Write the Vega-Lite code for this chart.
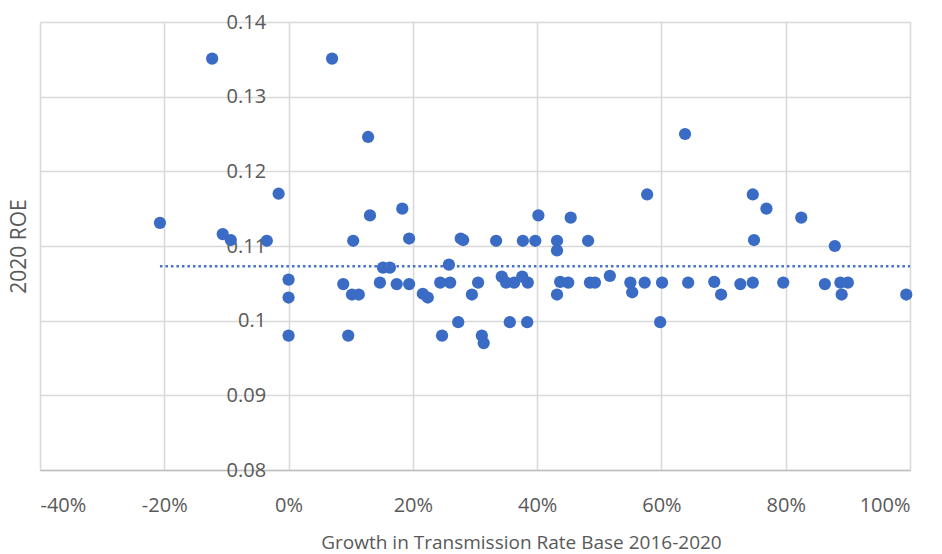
{
  "$schema": "https://vega.github.io/schema/vega-lite/v6.json",
  "width": 870,
  "height": 448,
  "autosize": {"type": "none"},
  "padding": {"left": 40, "top": 22, "right": 32, "bottom": 84},
  "background": "white",
  "config": {
    "view": {"stroke": null},
    "font": "Open Sans",
    "axis": {
      "gridColor": "#d9d9d9",
      "gridWidth": 1.6,
      "ticks": false,
      "tickSize": 0,
      "labelColor": "#595959",
      "titleColor": "#595959",
      "labelFont": "Open Sans",
      "titleFont": "Open Sans",
      "titleFontWeight": "normal"
    }
  },
  "layer": [
    {
      "data": {
        "values": [
          {"growth": -0.207, "roe": 0.1131},
          {"growth": -0.123, "roe": 0.1351},
          {"growth": -0.106, "roe": 0.1116},
          {"growth": -0.093, "roe": 0.1108},
          {"growth": -0.035, "roe": 0.1107},
          {"growth": -0.016, "roe": 0.117},
          {"growth": 0.0, "roe": 0.1055},
          {"growth": 0.0, "roe": 0.1031},
          {"growth": 0.0, "roe": 0.098},
          {"growth": 0.07, "roe": 0.1351},
          {"growth": 0.088, "roe": 0.1049},
          {"growth": 0.096, "roe": 0.098},
          {"growth": 0.102, "roe": 0.1035},
          {"growth": 0.104, "roe": 0.1107},
          {"growth": 0.113, "roe": 0.1035},
          {"growth": 0.128, "roe": 0.1246},
          {"growth": 0.131, "roe": 0.1141},
          {"growth": 0.147, "roe": 0.1051},
          {"growth": 0.152, "roe": 0.1071},
          {"growth": 0.163, "roe": 0.1071},
          {"growth": 0.174, "roe": 0.1049},
          {"growth": 0.183, "roe": 0.115},
          {"growth": 0.194, "roe": 0.111},
          {"growth": 0.194, "roe": 0.1049},
          {"growth": 0.216, "roe": 0.1036},
          {"growth": 0.224, "roe": 0.1031},
          {"growth": 0.244, "roe": 0.1051},
          {"growth": 0.247, "roe": 0.098},
          {"growth": 0.258, "roe": 0.1075},
          {"growth": 0.26, "roe": 0.1051},
          {"growth": 0.273, "roe": 0.0998},
          {"growth": 0.277, "roe": 0.111},
          {"growth": 0.281, "roe": 0.1108},
          {"growth": 0.295, "roe": 0.1035},
          {"growth": 0.305, "roe": 0.1051},
          {"growth": 0.311, "roe": 0.098},
          {"growth": 0.314, "roe": 0.097},
          {"growth": 0.334, "roe": 0.1107},
          {"growth": 0.343, "roe": 0.1059},
          {"growth": 0.35, "roe": 0.1051},
          {"growth": 0.356, "roe": 0.0998},
          {"growth": 0.363, "roe": 0.1051},
          {"growth": 0.376, "roe": 0.1059},
          {"growth": 0.377, "roe": 0.1107},
          {"growth": 0.384, "roe": 0.0998},
          {"growth": 0.385, "roe": 0.1051},
          {"growth": 0.397, "roe": 0.1107},
          {"growth": 0.402, "roe": 0.1141},
          {"growth": 0.432, "roe": 0.1107},
          {"growth": 0.432, "roe": 0.1094},
          {"growth": 0.432, "roe": 0.1035},
          {"growth": 0.437, "roe": 0.1052},
          {"growth": 0.45, "roe": 0.1051},
          {"growth": 0.454, "roe": 0.1138},
          {"growth": 0.482, "roe": 0.1107},
          {"growth": 0.485, "roe": 0.1051},
          {"growth": 0.493, "roe": 0.1051},
          {"growth": 0.517, "roe": 0.106},
          {"growth": 0.55, "roe": 0.1051},
          {"growth": 0.553, "roe": 0.1038},
          {"growth": 0.573, "roe": 0.1051},
          {"growth": 0.577, "roe": 0.1169},
          {"growth": 0.598, "roe": 0.0998},
          {"growth": 0.601, "roe": 0.1051},
          {"growth": 0.638, "roe": 0.125},
          {"growth": 0.643, "roe": 0.1051},
          {"growth": 0.685, "roe": 0.1052},
          {"growth": 0.696, "roe": 0.1035},
          {"growth": 0.727, "roe": 0.1049},
          {"growth": 0.747, "roe": 0.1169},
          {"growth": 0.747, "roe": 0.1051},
          {"growth": 0.749, "roe": 0.1108},
          {"growth": 0.769, "roe": 0.115},
          {"growth": 0.796, "roe": 0.1051},
          {"growth": 0.825, "roe": 0.1138},
          {"growth": 0.863, "roe": 0.1049},
          {"growth": 0.879, "roe": 0.11},
          {"growth": 0.888, "roe": 0.1051},
          {"growth": 0.89, "roe": 0.1035},
          {"growth": 0.9, "roe": 0.1051},
          {"growth": 0.994, "roe": 0.1035}
        ]
      },
      "mark": {
        "type": "point",
        "shape": "circle",
        "filled": true,
        "size": 150,
        "color": "#3A6BC5",
        "opacity": 1
      },
      "encoding": {
        "x": {
          "field": "growth",
          "type": "quantitative",
          "scale": {"domain": [-0.4, 1], "nice": false, "zero": false},
          "axis": {
            "values": [-0.4, -0.2, 0, 0.2, 0.4, 0.6, 0.8, 1],
            "labelExpr": "replace(format(datum.value, '.0%'), '\u2212', '-')",
            "grid": true,
            "domain": true,
            "domainColor": "#bfbfbf",
            "domainWidth": 1.6,
            "labelPadding": 25,
            "labelFontSize": 20,
            "title": "Growth in Transmission Rate Base 2016-2020",
            "titleFontSize": 19,
            "titleX": 481,
            "titlePadding": 18
          }
        },
        "y": {
          "field": "roe",
          "type": "quantitative",
          "scale": {"domain": [0.08, 0.14], "nice": false, "zero": false},
          "axis": {
            "values": [0.08, 0.09, 0.1, 0.11, 0.12, 0.13, 0.14],
            "format": ".2~f",
            "grid": true,
            "domain": false,
            "offset": -248.6,
            "labelPadding": 23,
            "labelFontSize": 20,
            "title": "2020 ROE",
            "titleFontSize": 21,
            "titleX": -259,
            "titleY": 224
          }
        }
      }
    },
    {
      "data": {"values": [{"start": -0.207, "end": 1.0, "mean_roe": 0.1073}]},
      "mark": {
        "type": "rule",
        "strokeDash": [2.5, 3],
        "strokeWidth": 2.5,
        "color": "#4472C4"
      },
      "encoding": {
        "x": {"field": "start", "type": "quantitative"},
        "x2": {"field": "end"},
        "y": {"field": "mean_roe", "type": "quantitative"}
      }
    }
  ]
}
